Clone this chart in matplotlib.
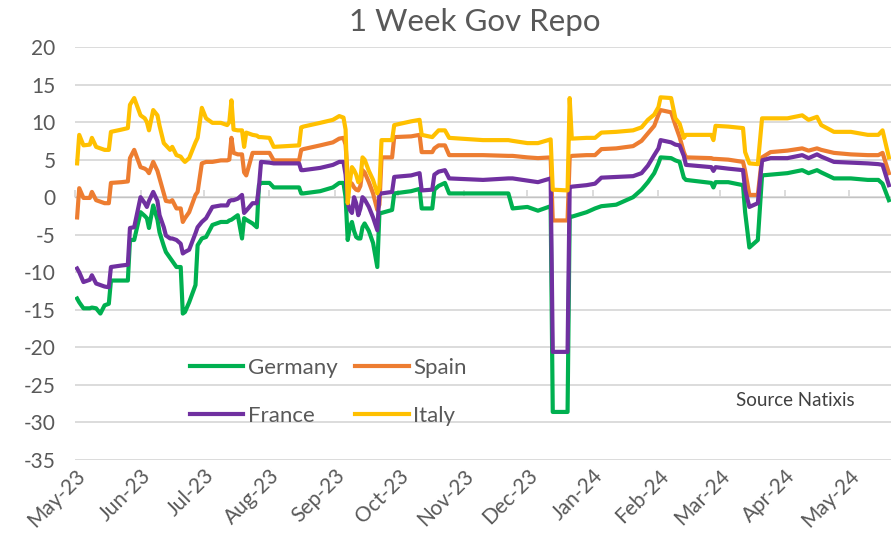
import numpy as np
import pandas as pd
import matplotlib
matplotlib.use('Agg')
import matplotlib.pyplot as plt
import matplotlib.dates as mdates

plt.rcParams['font.family'] = ['Lato', 'DejaVu Sans']
plt.rcParams['axes.unicode_minus'] = False

# key dates, with the four series at those dates
dates = ['2023-05-02', '2023-05-03', '2023-05-05', '2023-05-08', '2023-05-09', '2023-05-11',
         '2023-05-13', '2023-05-15', '2023-05-17', '2023-05-18', '2023-05-23', '2023-05-26',
         '2023-05-27', '2023-05-29', '2023-06-01', '2023-06-03', '2023-06-04', '2023-06-05',
         '2023-06-07', '2023-06-09', '2023-06-10', '2023-06-12', '2023-06-13', '2023-06-15',
         '2023-06-16', '2023-06-18', '2023-06-20', '2023-06-21', '2023-06-22', '2023-06-24',
         '2023-06-27', '2023-06-28', '2023-06-30', '2023-07-02', '2023-07-05', '2023-07-09',
         '2023-07-12', '2023-07-13', '2023-07-14', '2023-07-15', '2023-07-17', '2023-07-19',
         '2023-07-20', '2023-07-21', '2023-07-24', '2023-07-26', '2023-07-27', '2023-07-28',
         '2023-08-01', '2023-08-03', '2023-08-15', '2023-08-16', '2023-08-17', '2023-08-25',
         '2023-08-31', '2023-09-03', '2023-09-05', '2023-09-06', '2023-09-07', '2023-09-08',
         '2023-09-09', '2023-09-10', '2023-09-11', '2023-09-12', '2023-09-13', '2023-09-14',
         '2023-09-15', '2023-09-17', '2023-09-19', '2023-09-21', '2023-09-22', '2023-09-23',
         '2023-09-28', '2023-09-29', '2023-10-07', '2023-10-11', '2023-10-12', '2023-10-17',
         '2023-10-18', '2023-10-20', '2023-10-23', '2023-10-25', '2023-11-10', '2023-11-22',
         '2023-11-24', '2023-12-01', '2023-12-06', '2023-12-12', '2023-12-13', '2023-12-20',
         '2023-12-21', '2023-12-22', '2023-12-29', '2024-01-02', '2024-01-05', '2024-01-12',
         '2024-01-20', '2024-01-24', '2024-01-27', '2024-01-30', '2024-02-01', '2024-02-02',
         '2024-02-07', '2024-02-09', '2024-02-11', '2024-02-13', '2024-02-14', '2024-02-26',
         '2024-02-27', '2024-02-28', '2024-03-05', '2024-03-12', '2024-03-13', '2024-03-15',
         '2024-03-19', '2024-03-21', '2024-03-25', '2024-04-02', '2024-04-09', '2024-04-12',
         '2024-04-16', '2024-04-18', '2024-04-24', '2024-05-02', '2024-05-10', '2024-05-15',
         '2024-05-17', '2024-05-20']

italy = [4.5, 8.3, 6.9, 7.0, 7.9, 6.7,
         6.5, 6.3, 6.3, 8.7, 9.0, 9.2,
         12.3, 13.2, 10.9, 10.5, 10.0, 8.9,
         11.6, 10.9, 9.5, 7.2, 6.9, 6.3,
         6.7, 5.6, 5.4, 5.0, 4.7, 5.2,
         7.3, 7.9, 11.9, 10.5, 9.9, 9.9,
         9.6, 10.0, 12.9, 9.0, 8.9, 8.9,
         6.7, 8.6, 8.3, 8.2, 8.0, 8.0,
         7.9, 6.7, 6.9, 9.3, 9.4, 9.9,
         10.3, 10.8, 10.6, 9.0, -0.8, 2.0,
         4.0, 3.6, 3.0, 2.0, 2.3, 5.3,
         5.0, 3.5, 2.3, 0.5, 1.3, 7.6,
         7.6, 9.6, 10.1, 10.3, 8.3, 8.0,
         8.3, 8.9, 8.9, 7.9, 7.6, 7.6,
         7.5, 7.2, 7.2, 7.7, 1.0, 0.9,
         13.2, 7.8, 7.9, 7.9, 8.6, 8.7,
         8.9, 9.3, 10.3, 11.0, 12.0, 13.3,
         13.2, 10.5, 9.8, 7.9, 8.3, 8.3,
         7.6, 9.5, 9.4, 9.2, 6.0, 4.5,
         4.4, 10.5, 10.5, 10.5, 10.9, 10.3,
         10.7, 9.6, 8.7, 8.7, 8.3, 8.3,
         8.9, 5.3]

spain = [-2.7, 1.2, -0.1, -0.1, 0.7, -0.4,
         -0.6, -0.8, -0.8, 1.9, 2.0, 2.1,
         5.2, 6.3, 4.0, 3.8, 3.6, 3.2,
         4.7, 3.5, 2.5, 0.5, -0.5, -0.6,
         -0.4, -1.5, -1.5, -3.3, -2.8, -2.0,
         0.3, 0.7, 4.5, 4.7, 4.7, 4.9,
         4.9, 5.0, 7.9, 5.9, 5.7, 5.7,
         3.3, 2.9, 5.9, 5.9, 5.9, 5.9,
         5.9, 4.9, 4.9, 6.3, 6.4, 6.9,
         7.3, 7.8, 7.9, 7.0, 2.7, 2.0,
         1.8, 1.3, 1.0, 0.9, 1.5, 3.6,
         3.3, 2.0, 0.5, -1.7, -1.0, 5.3,
         5.3, 8.0, 8.1, 8.3, 6.0, 6.0,
         6.5, 6.9, 6.9, 5.6, 5.6, 5.5,
         5.5, 5.3, 5.2, 5.3, -3.1, -3.1,
         5.3, 5.5, 5.6, 5.6, 6.4, 6.5,
         6.8, 7.5, 8.5, 9.5, 11.0, 11.6,
         11.3, 9.6, 8.0, 6.0, 5.3, 5.2,
         5.1, 5.1, 5.0, 4.7, 3.5, 0.3,
         0.3, 5.3, 6.0, 6.2, 6.5, 6.2,
         6.5, 6.3, 5.9, 5.7, 5.6, 5.6,
         5.9, 3.2]

france = [-9.5, -10.0, -11.3, -11.0, -10.4, -11.5,
          -11.7, -11.9, -12.0, -9.3, -9.1, -9.0,
          -4.1, -4.0, 0.0, -0.8, -1.3, -0.5,
          0.7, -0.5, -2.4, -4.0, -5.1, -5.5,
          -5.5, -5.7, -6.2, -7.5, -7.3, -7.0,
          -4.8, -4.0, -3.3, -2.8, -1.3, -1.1,
          -1.1, -0.5, -0.4, -0.4, -0.2, 0.3,
          -2.1, -1.8, -0.8, -0.8, 1.3, 4.7,
          4.6, 4.5, 4.5, 3.6, 3.6, 3.9,
          4.3, 4.7, 4.7, 3.0, -0.8, -1.7,
          -2.1, 0.0, -0.8, -2.4, -1.5, 0.0,
          -0.3, -1.3, -2.7, -4.4, 0.5, 0.5,
          0.7, 2.7, 2.9, 3.2, 0.9, 1.0,
          3.0, 3.4, 3.6, 2.5, 2.3, 2.5,
          2.5, 2.2, 2.0, 2.5, -20.6, -20.6,
          1.3, 1.4, 1.6, 1.8, 2.6, 2.7,
          2.8, 3.2, 4.2, 5.6, 6.5, 7.6,
          7.3, 7.0, 6.9, 5.5, 4.3, 4.0,
          3.5, 4.0, 3.8, 3.6, 1.0, -1.3,
          -0.8, 4.9, 5.2, 5.2, 5.6, 5.2,
          5.7, 5.4, 4.7, 4.6, 4.5, 4.4,
          4.3, 1.6]

germany = [-13.5, -14.0, -14.8, -14.8, -14.7, -14.8,
           -15.5, -14.4, -14.2, -11.1, -11.1, -11.1,
           -5.7, -5.7, -2.0, -2.5, -2.8, -4.1,
           -1.1, -3.0, -4.7, -6.5, -7.3, -8.1,
           -8.5, -9.3, -9.3, -15.5, -15.3, -14.0,
           -11.7, -6.4, -5.5, -5.3, -3.7, -3.3,
           -3.3, -3.1, -3.0, -2.8, -2.4, -5.5,
           -2.8, -3.0, -3.5, -4.0, 1.6, 1.9,
           1.9, 1.3, 1.3, 0.5, 0.5, 0.8,
           1.3, 1.9, 1.9, 0.0, -5.7, -4.0,
           -3.3, -4.5, -5.3, -5.5, -5.5, -4.0,
           -3.5, -4.5, -6.1, -9.3, -2.1, -2.1,
           -1.7, 0.5, 0.8, 1.1, -1.5, -1.5,
           1.0, 1.5, 1.9, 0.5, 0.5, 0.5,
           -1.5, -1.3, -1.8, -1.2, -28.6, -28.6,
           -2.5, -2.6, -2.0, -1.5, -1.2, -1.0,
           0.0, 1.0, 2.0, 3.2, 4.5, 5.3,
           5.2, 4.9, 4.7, 2.6, 2.3, 1.9,
           1.3, 2.0, 2.0, 1.6, -2.0, -6.7,
           -5.7, 2.9, 3.0, 3.2, 3.6, 3.2,
           3.6, 3.3, 2.5, 2.5, 2.3, 2.3,
           1.8, -0.4]

df = pd.DataFrame({'Germany': germany, 'Spain': spain, 'France': france, 'Italy': italy},
                  index=pd.to_datetime(dates))
colors = {'Germany': '#00B050', 'Spain': '#ED7D31', 'France': '#7030A0', 'Italy': '#FFC000'}

fig = plt.figure(figsize=(8.91, 5.5), dpi=100)
ax = fig.add_axes([75/891, 1-460/550, 1-75/891, (460-47)/550])

lines = {}
for name in ['Germany', 'Spain', 'France', 'Italy']:
    lines[name], = ax.plot(df.index, df[name], color=colors[name], lw=3.0,
                           solid_joinstyle='round', label=name)

ax.set_ylim(-35, 20)
ax.set_yticks(np.arange(-35, 21, 5))
ax.set_xlim(pd.Timestamp('2023-05-01'), pd.Timestamp('2024-05-21'))
ax.xaxis.set_major_locator(mdates.MonthLocator())
ax.xaxis.set_major_formatter(mdates.DateFormatter('%b-%y'))
ax.grid(axis='y', color='#D9D9D9', lw=1.3)
ax.set_axisbelow(True)
for s in ax.spines.values():
    s.set_visible(False)
ax.tick_params(axis='both', length=0, colors='#595959', labelsize=15)
ax.tick_params(axis='x', pad=4)
ax.tick_params(axis='y', pad=14)
for lab in ax.get_xticklabels():
    lab.set_rotation(45)
    lab.set_ha('right')
    lab.set_va('top')
    lab.set_rotation_mode('anchor')

# tick marks on the zero line
sec = ax.secondary_xaxis(35/55)
sec.xaxis.set_major_locator(mdates.MonthLocator())
sec.set_xticklabels([])
sec.spines['bottom'].set_color('#D9D9D9')
sec.tick_params(axis='x', direction='out', length=5, width=1.3, color='#D9D9D9')

fig.text(475/891, 1-22/550, '1 Week Gov Repo', ha='center', va='center',
         fontsize=22.5, color='#595959')

leg = ax.legend(handles=[lines['Germany'], lines['France'], lines['Spain'], lines['Italy']],
                ncol=2, frameon=False, fontsize=16, handlelength=2.4, handletextpad=0.2,
                columnspacing=0.8, labelspacing=1.25, borderpad=0, borderaxespad=0,
                loc='upper left', bbox_to_anchor=(190/891, 1-358/550),
                bbox_transform=fig.transFigure)
for t in leg.get_texts():
    t.set_color('#595959')

fig.text(795/891, 1-400/550, 'Source Natixis', ha='center', va='center',
         fontsize=13.5, color='#404040')

fig.savefig('out.png', dpi=100)
